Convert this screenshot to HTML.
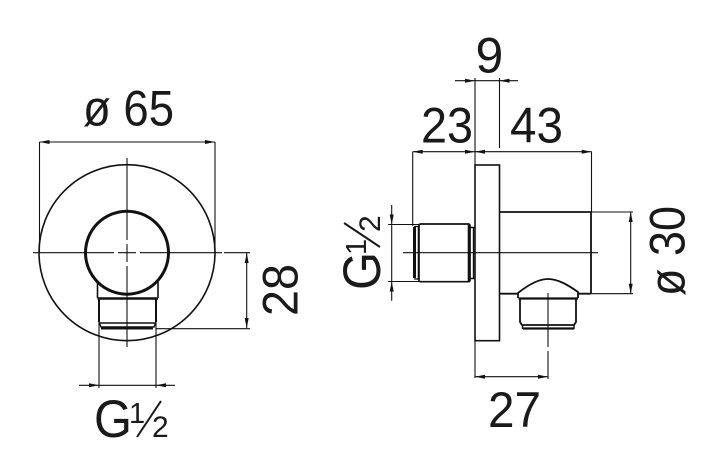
<!DOCTYPE html>
<html>
<head>
<meta charset="utf-8">
<style>
html,body{margin:0;padding:0;background:#fff}
svg{display:block}
text{font-family:"Liberation Sans",sans-serif;fill:#1a1a1a}
</style>
</head>
<body>
<svg width="720" height="475" viewBox="0 0 720 475" xmlns="http://www.w3.org/2000/svg">
<rect width="720" height="475" fill="#fff"/>
<defs>
<path id="a" d="M0 0L10 -2L10 2Z" fill="#111"/>
</defs>

<!-- LEFT VIEW: geometry -->
<g fill="none" stroke="#111">
<circle cx="127" cy="252.7" r="88" stroke-width="1.6"/>
<rect x="97.5" y="290" width="60.5" height="9" fill="#fff" stroke="none"/>
<path d="M97.5 280V298M158 280V298" stroke-width="1.6"/>
<path d="M97.5 298.5H158" stroke-width="2.4"/>
<path d="M99 298V322M156 298V322" stroke-width="2"/>
<path d="M99 323H156" stroke-width="1.6"/>
<path d="M99 322L101 327H154L156 322" stroke-width="1.4"/>
<path d="M101 328.5H153" stroke-width="2"/>
<circle cx="127" cy="252.7" r="41.5" fill="#fff" stroke-width="3"/>
<!-- centrelines -->
<g stroke-width="1.1">
<path d="M33 252.7H114M118 252.7H136M140 252.7H222M224 252.7H250"/>
<path d="M127 158V240M127 244V262M127 266V347"/>
<path d="M39.5 142V252M215 142V252"/>
<path d="M39.5 142H215"/>
<path d="M246.7 253V328"/>
<path d="M156 328.7H250"/>
<path d="M99 323V388M156 323V388"/>
<path d="M79 385.3H175"/>
</g>
</g>
<g>
<use href="#a" transform="translate(39.5 142)"/>
<use href="#a" transform="translate(215 142) rotate(180)"/>
<use href="#a" transform="translate(246.7 253) rotate(90)"/>
<use href="#a" transform="translate(246.7 328) rotate(-90)"/>
<use href="#a" transform="translate(99 385.3) rotate(180)"/>
<use href="#a" transform="translate(156 385.3)"/>
</g>

<!-- RIGHT VIEW: geometry -->
<g fill="none" stroke="#111">
<rect x="475" y="165" width="24.5" height="175.7" stroke-width="1.6"/>
<path d="M499.5 212H591" stroke-width="1.8"/>
<path d="M591 212V293.7" stroke-width="1.8"/>
<path d="M499.5 293.7H518M578 293.7H591" stroke-width="1.8"/>
<path d="M518 298V293C528 285 538 279 548 279C558 279 568 285 578 292V298" stroke-width="1.8"/>
<path d="M518.5 298.5H578" stroke-width="2.2"/>
<path d="M520 298V322L522 325H574L576 322V298" stroke-width="1.8"/>
<path d="M523 328.5H574" stroke-width="2.2"/>
<path d="M522.5 325V329M574 325V329" stroke-width="1.4"/>
<!-- left spigot -->
<rect x="419" y="224" width="51" height="57.7" rx="1.5" stroke-width="1.7"/>
<path d="M414.5 227V278" stroke-width="3"/>
<path d="M414 226.5H419M414 279H419" stroke-width="1.3"/>
<path d="M418.5 226V280" stroke-width="1.6"/>
<path d="M469 225V281" stroke-width="2.6"/>
<path d="M470 227.5H475M470 278.5H475" stroke-width="1.5"/>
<path d="M473.5 227.5V278.5" stroke-width="1.4"/>
<g stroke-width="1.1">
<path d="M403 252.7H598"/>
<path d="M548 293V347M548 351V379"/>
<path d="M475 78V165M499.5 78V148"/>
<path d="M455 80.7H518"/>
<path d="M412.7 151.7H591.7"/>
<path d="M412.7 151.7V226"/>
<path d="M591.5 151.7V212"/>
<path d="M388 224.5H419M388 281.5H419"/>
<path d="M391.7 205V300.7"/>
<path d="M591 212H633M591 293.7H633"/>
<path d="M630.7 212V293.7"/>
<path d="M475 340V378"/>
<path d="M475 376.7H548"/>
</g>
</g>
<g>
<use href="#a" transform="translate(475 80.7) rotate(180)"/>
<use href="#a" transform="translate(499.5 80.7)"/>
<use href="#a" transform="translate(412.7 151.7)"/>
<use href="#a" transform="translate(475 151.7) rotate(180)"/>
<use href="#a" transform="translate(475 151.7)"/>
<use href="#a" transform="translate(591.7 151.7) rotate(180)"/>
<use href="#a" transform="translate(391.7 224.5) rotate(-90)"/>
<use href="#a" transform="translate(391.7 281.5) rotate(90)"/>
<use href="#a" transform="translate(630.7 212) rotate(90)"/>
<use href="#a" transform="translate(630.7 293.7) rotate(-90)"/>
<use href="#a" transform="translate(475 376.7)"/>
<use href="#a" transform="translate(548 376.7) rotate(180)"/>
</g>

<!-- LABELS -->
<text x="83" y="125.5" font-size="50" textLength="91" lengthAdjust="spacingAndGlyphs">ø 65</text>
<text x="475.5" y="72.5" font-size="50">9</text>
<text x="421" y="142.5" font-size="50" textLength="52" lengthAdjust="spacingAndGlyphs">23</text>
<text x="510" y="142.5" font-size="50" textLength="53" lengthAdjust="spacingAndGlyphs">43</text>
<text x="488" y="427" font-size="50" textLength="53" lengthAdjust="spacingAndGlyphs">27</text>
<text transform="translate(297.5 316) rotate(-90)" font-size="50" textLength="52" lengthAdjust="spacingAndGlyphs">28</text>
<text transform="translate(684.5 296) rotate(-90)" font-size="50" textLength="90" lengthAdjust="spacingAndGlyphs">ø 30</text>

<g>
<text x="94" y="437" font-size="53" textLength="38" lengthAdjust="spacingAndGlyphs">G</text>
<text x="129" y="423" font-size="29">1</text>
<text x="152" y="437" font-size="30">2</text>
<path d="M137 437L161 401" stroke="#1a1a1a" stroke-width="2" fill="none"/>
</g>
<g transform="translate(380 288) rotate(-90)">
<text x="-2" y="0" font-size="53" textLength="38" lengthAdjust="spacingAndGlyphs">G</text>
<text x="33" y="-14" font-size="29">1</text>
<text x="56" y="0" font-size="30">2</text>
<path d="M41 0L65 -36" stroke="#1a1a1a" stroke-width="2" fill="none"/>
</g>
</svg>
</body>
</html>
